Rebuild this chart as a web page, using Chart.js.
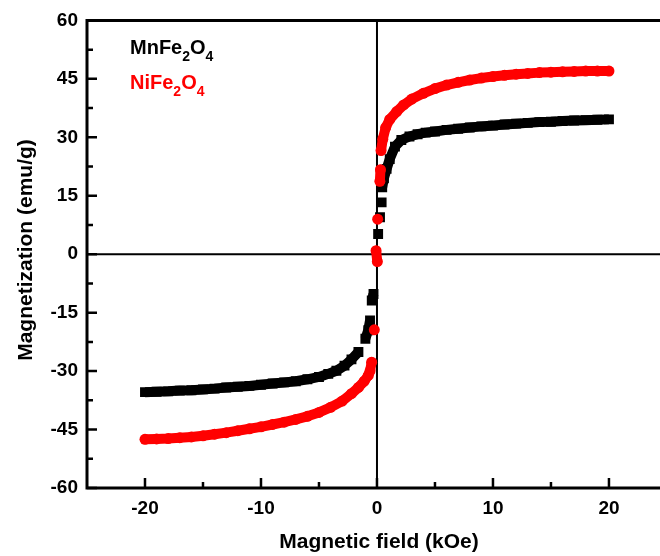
<!DOCTYPE html>
<html>
<head>
<meta charset="utf-8">
<script src="https://cdn.jsdelivr.net/npm/chart.js@4.4.1/dist/chart.umd.min.js"></script>
<style>
  html, body { margin: 0; padding: 0; background: #fff; }
  #wrap { width: 660px; height: 556px; }
</style>
</head>
<body>
<div id="wrap"><canvas id="mh"></canvas></div>
<script>
// M-H loops of MnFe2O4 and NiFe2O4

const fieldMn = [-20, -19, -18, -17, -16, -15, -14, -13, -12, -11, -10, -9, -8, -7, -6, -5,
  -4.2, -3.5, -2.8, -2.2, -1.6, -1.0, -0.75, -0.6, -0.45, -0.3,
  0.1, 0.26, 0.4, 0.45, 0.6, 0.83, 1.1, 1.55, 2.1, 2.8, 3.5, 4.2,
  5, 6, 7, 8, 9, 10, 11, 12, 13, 14, 15, 16, 17, 18, 19, 20];
const magMn = [-35.4, -35.3, -35.2, -35.0, -34.9, -34.7, -34.5, -34.2, -34.0, -33.8, -33.5, -33.2, -32.9, -32.6, -32.1, -31.5,
  -30.7, -29.9, -28.6, -27.0, -25.1, -21.7, -19.5, -17.0, -11.9, -10.2,
  5.2, 9.5, 13.3, 17.2, 19.5, 21.9, 24.4, 27.6, 29.3, 30.2, 30.8, 31.2,
  31.5, 31.9, 32.2, 32.5, 32.8, 33.0, 33.3, 33.5, 33.7, 33.9, 34.0, 34.2, 34.3, 34.4, 34.5, 34.6];

const fieldNi = [-20, -19, -18, -17, -16, -15, -14, -13, -12, -11, -10, -9, -8, -7, -6, -5, -4, -3,
  -2.2, -1.6, -1.1, -0.75, -0.6, -0.46, -0.23,
  0.03, -0.08, 0.06, 0.25, 0.3, 0.35, 0.5, 0.75, 1.1, 1.7, 2.3, 3, 4,
  5, 6, 7, 8, 9, 10, 11, 12, 13, 14, 15, 16, 17, 18, 19, 20];
const magNi = [-47.5, -47.4, -47.3, -47.1, -46.9, -46.6, -46.2, -45.8, -45.3, -44.8, -44.3, -43.7, -43.1, -42.4, -41.6, -40.6, -39.3, -37.7,
  -35.8, -34.2, -32.6, -31.1, -30.0, -27.7, -19.4,
  -1.9, 0.9, 9.0, 18.7, 21.7, 26.6, 29.5, 32.5, 34.6, 36.6, 38.3, 39.8, 41.3,
  42.5, 43.4, 44.1, 44.7, 45.2, 45.6, 45.9, 46.2, 46.4, 46.6, 46.7, 46.8, 46.9, 47.0, 47.0, 47.0];

const xTicks = [-20, -10, 0, 10, 20];
const xMinor = [-15, -5, 5, 15];
const yTicks = [-60, -45, -30, -15, 0, 15, 30, 45, 60];
const yMinor = [-52.5, -37.5, -22.5, -7.5, 7.5, 22.5, 37.5, 52.5];

const FONT = "'Liberation Sans', Arial, sans-serif";
const RED = '#ff0000';
const BLACK = '#000000';

const toPoints = (xs, ys) => xs.map((x, i) => ({ x, y: ys[i] }));

// steep part of the loop shows separate markers, not a band
const gapColor = ctx => Math.hypot(ctx.p1.x - ctx.p0.x, ctx.p1.y - ctx.p0.y) > 14.5 ? 'rgba(0,0,0,0)' : undefined;

function subText(ctx, parts, x, y, color) {
  ctx.fillStyle = color;
  ctx.textAlign = 'left';
  ctx.textBaseline = 'alphabetic';
  parts.forEach(([txt, sub]) => {
    ctx.font = sub ? `bold 14px ${FONT}` : `bold 20px ${FONT}`;
    ctx.fillText(txt, x, sub ? y + 7 : y);
    x += ctx.measureText(txt).width;
  });
}

const framePlugin = {
  id: 'frame',
  beforeDatasetsDraw(chart) {
    const { ctx, chartArea: a, scales: { x, y } } = chart;
    ctx.save();
    ctx.strokeStyle = BLACK;
    ctx.lineWidth = 2;
    ctx.beginPath();
    ctx.moveTo(a.left, y.getPixelForValue(0));
    ctx.lineTo(a.right, y.getPixelForValue(0));
    ctx.moveTo(x.getPixelForValue(0), a.top);
    ctx.lineTo(x.getPixelForValue(0), a.bottom);
    ctx.stroke();
    ctx.restore();
  },
  afterDraw(chart) {
    const { ctx, chartArea: a, scales: { x, y } } = chart;
    ctx.save();
    ctx.strokeStyle = BLACK;
    ctx.lineWidth = 3;
    ctx.beginPath();
    ctx.moveTo(chart.width, a.top);
    ctx.lineTo(a.left, a.top);
    ctx.lineTo(a.left, a.bottom);
    ctx.lineTo(chart.width, a.bottom);
    ctx.stroke();

    // inward ticks
    ctx.lineWidth = 2.5;
    ctx.beginPath();
    xTicks.forEach(v => { const px = x.getPixelForValue(v); ctx.moveTo(px, a.bottom); ctx.lineTo(px, a.bottom - 10); });
    xMinor.forEach(v => { const px = x.getPixelForValue(v); ctx.moveTo(px, a.bottom); ctx.lineTo(px, a.bottom - 6); });
    yTicks.forEach(v => { const py = y.getPixelForValue(v); ctx.moveTo(a.left, py); ctx.lineTo(a.left + 10, py); });
    yMinor.forEach(v => { const py = y.getPixelForValue(v); ctx.moveTo(a.left, py); ctx.lineTo(a.left + 6, py); });
    ctx.stroke();

    // x tick labels
    ctx.fillStyle = BLACK;
    ctx.font = `bold 19px ${FONT}`;
    ctx.textAlign = 'center';
    ctx.textBaseline = 'alphabetic';
    xTicks.forEach(v => ctx.fillText(String(v), x.getPixelForValue(v), a.bottom + 26));

    // axis titles
    ctx.font = `bold 21px ${FONT}`;
    ctx.fillText('Magnetic field (kOe)', x.getPixelForValue(0) + 2, 548);
    ctx.translate(32, 250);
    ctx.rotate(-Math.PI / 2);
    ctx.fillText('Magnetization (emu/g)', 0, 0);
    ctx.restore();

    // legend labels
    ctx.save();
    subText(ctx, [['MnFe'], ['2', true], ['O'], ['4', true]], 130, 54, BLACK);
    subText(ctx, [['NiFe'], ['2', true], ['O'], ['4', true]], 130, 89, RED);
    ctx.restore();
  }
};

new Chart(document.getElementById('mh'), {
  type: 'scatter',
  data: {
    datasets: [
      {
        label: 'NiFe2O4',
        data: toPoints(fieldNi, magNi),
        showLine: true,
        borderColor: RED,
        borderWidth: 10,
        borderCapStyle: 'round',
        borderJoinStyle: 'round',
        pointStyle: 'circle',
        pointRadius: 5.5,
        pointBorderWidth: 0,
        pointBackgroundColor: RED,
        segment: { borderColor: gapColor },
      },
      {
        label: 'MnFe2O4',
        data: toPoints(fieldMn, magMn),
        showLine: true,
        borderColor: BLACK,
        borderWidth: 10,
        borderCapStyle: 'butt',
        borderJoinStyle: 'round',
        pointStyle: 'rect',
        pointRadius: 7,
        pointBorderWidth: 0,
        pointBackgroundColor: BLACK,
        segment: { borderColor: gapColor },
      },
    ],
  },
  options: {
    responsive: true,
    maintainAspectRatio: false,
    devicePixelRatio: 1,
    animation: false,
    events: [],
    layout: { autoPadding: false, padding: { top: 20, right: 0, bottom: 0, left: 0 } },
    plugins: { legend: { display: false }, tooltip: { enabled: false } },
    scales: {
      x: {
        type: 'linear',
        min: -25,
        max: 24.4,
        afterBuildTicks: s => { s.ticks = xTicks.map(v => ({ value: v })); },
        afterFit: s => { s.height = 68; },
        grid: { display: false, drawTicks: false, tickLength: 0 },
        border: { display: false },
        ticks: { display: false },
      },
      y: {
        type: 'linear',
        min: -60,
        max: 60,
        afterBuildTicks: s => { s.ticks = yTicks.map(v => ({ value: v })); },
        afterFit: s => { s.width = 87; },
        grid: { display: false, drawTicks: false, tickLength: 0 },
        border: { display: false },
        ticks: { color: BLACK, font: { family: FONT, size: 19, weight: 'bold' }, padding: 9, autoSkip: false },
      },
    },
  },
  plugins: [framePlugin],
});
</script>
</body>
</html>
